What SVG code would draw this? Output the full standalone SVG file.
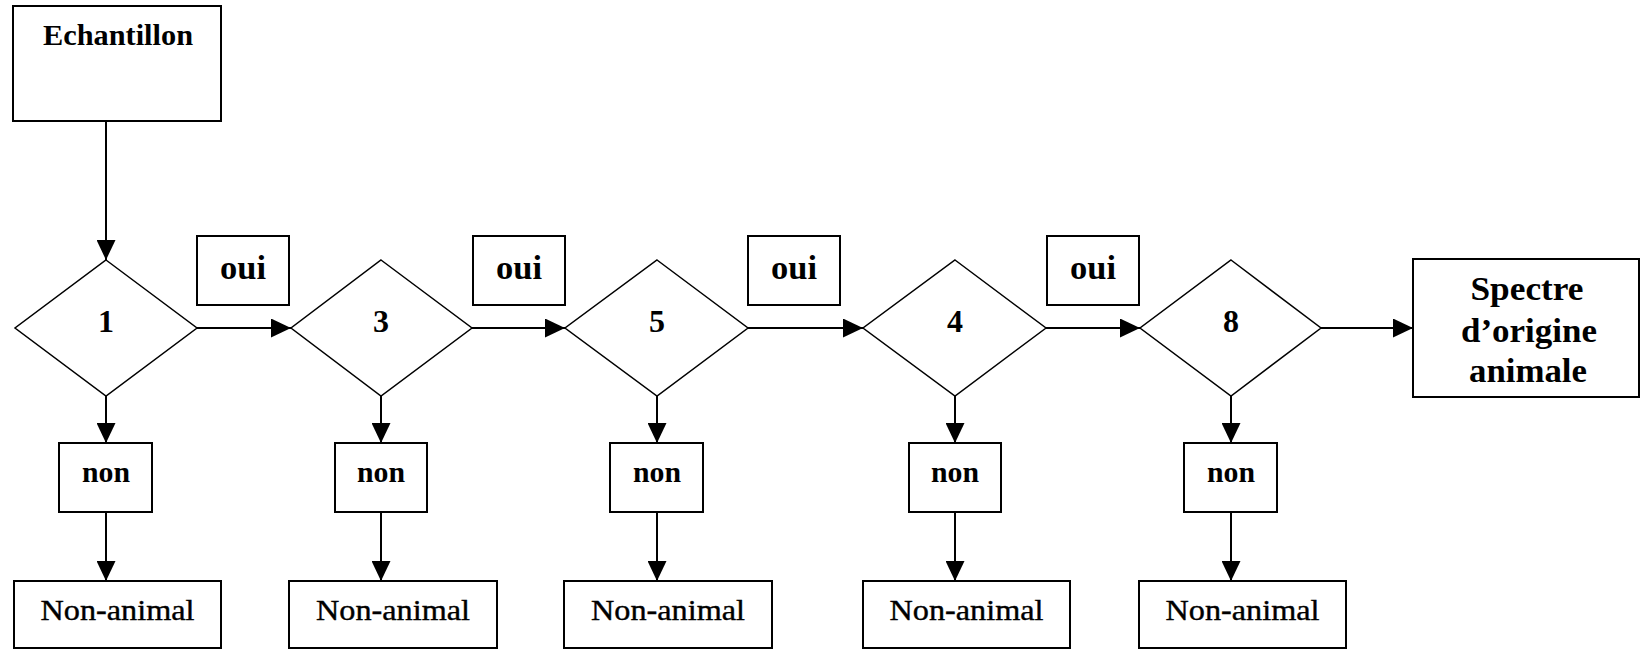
<svg xmlns="http://www.w3.org/2000/svg" width="1641" height="650" viewBox="0 0 1641 650">
<defs>
<style>
.box{fill:#fff;stroke:#000;stroke-width:2}
.dia{fill:#fff;stroke:#000;stroke-width:1.5}
.t{font-family:"Liberation Serif","Times New Roman",serif;font-weight:bold;fill:#000;text-anchor:middle}
.tn{font-family:"Liberation Serif","Times New Roman",serif;font-weight:normal;fill:#000;text-anchor:middle;stroke:#000;stroke-width:0.4}
.c{stroke:#000;stroke-width:2;fill:none;marker-end:url(#ah)}
</style>
<marker id="ah" markerUnits="userSpaceOnUse" markerWidth="20" markerHeight="19" refX="20" refY="9.5" orient="auto">
<path d="M0,0 L20,9.5 L0,19 z" fill="#000"/>
</marker>
</defs>
<rect width="1641" height="650" fill="#fff"/>
<g id="connectors">
<line class="c" x1="106" y1="121" x2="106" y2="260"/>
<line class="c" x1="197" y1="328" x2="291" y2="328"/>
<line class="c" x1="472" y1="328" x2="565" y2="328"/>
<line class="c" x1="748" y1="328" x2="863" y2="328"/>
<line class="c" x1="1046" y1="328" x2="1140" y2="328"/>
<line class="c" x1="1321" y1="328" x2="1413" y2="328"/>
<line class="c" x1="106" y1="396" x2="106" y2="443"/>
<line class="c" x1="106" y1="512" x2="106" y2="581"/>
<line class="c" x1="381" y1="396" x2="381" y2="443"/>
<line class="c" x1="381" y1="512" x2="381" y2="581"/>
<line class="c" x1="657" y1="396" x2="657" y2="443"/>
<line class="c" x1="657" y1="512" x2="657" y2="581"/>
<line class="c" x1="955" y1="396" x2="955" y2="443"/>
<line class="c" x1="955" y1="512" x2="955" y2="581"/>
<line class="c" x1="1231" y1="396" x2="1231" y2="443"/>
<line class="c" x1="1231" y1="512" x2="1231" y2="581"/>
</g>
<g id="echantillon"><rect class="box" x="13" y="6" width="208" height="115"/><text class="t" x="118" y="45" font-size="30" textLength="150" lengthAdjust="spacingAndGlyphs">Echantillon</text></g>

<g id="d1"><polygon class="dia" points="106,260 197,328 106,396 15,328"/><text class="t" x="106" y="332" font-size="32">1</text></g>
<g id="d3"><polygon class="dia" points="381,260 472,328 381,396 291,328"/><text class="t" x="381" y="332" font-size="32">3</text></g>
<g id="d5"><polygon class="dia" points="657,260 748,328 657,396 565,328"/><text class="t" x="657" y="332" font-size="32">5</text></g>
<g id="d4"><polygon class="dia" points="955,260 1046,328 955,396 863,328"/><text class="t" x="955" y="332" font-size="32">4</text></g>
<g id="d8"><polygon class="dia" points="1231,260 1321,328 1231,396 1140,328"/><text class="t" x="1231" y="332" font-size="32">8</text></g>

<g id="oui1"><rect class="box" x="197" y="236" width="92" height="69"/><text class="t" x="243" y="279" font-size="34" textLength="46" lengthAdjust="spacingAndGlyphs">oui</text></g>
<g id="oui2"><rect class="box" x="473" y="236" width="92" height="69"/><text class="t" x="519" y="279" font-size="34" textLength="46" lengthAdjust="spacingAndGlyphs">oui</text></g>
<g id="oui3"><rect class="box" x="748" y="236" width="92" height="69"/><text class="t" x="794" y="279" font-size="34" textLength="46" lengthAdjust="spacingAndGlyphs">oui</text></g>
<g id="oui4"><rect class="box" x="1047" y="236" width="92" height="69"/><text class="t" x="1093" y="279" font-size="34" textLength="46" lengthAdjust="spacingAndGlyphs">oui</text></g>

<g id="spectre"><rect class="box" x="1413" y="259" width="226" height="138"/>
<text class="t" x="1527" y="300" font-size="34" textLength="113" lengthAdjust="spacingAndGlyphs">Spectre</text>
<text class="t" x="1529" y="342" font-size="34" textLength="136" lengthAdjust="spacingAndGlyphs">d’origine</text>
<text class="t" x="1528" y="382" font-size="34" textLength="118" lengthAdjust="spacingAndGlyphs">animale</text></g>

<g id="non1"><rect class="box" x="59" y="443" width="93" height="69"/><text class="t" x="106" y="482" font-size="30" textLength="48" lengthAdjust="spacingAndGlyphs">non</text></g>
<g id="non2"><rect class="box" x="335" y="443" width="92" height="69"/><text class="t" x="381" y="482" font-size="30" textLength="48" lengthAdjust="spacingAndGlyphs">non</text></g>
<g id="non3"><rect class="box" x="610" y="443" width="93" height="69"/><text class="t" x="657" y="482" font-size="30" textLength="48" lengthAdjust="spacingAndGlyphs">non</text></g>
<g id="non4"><rect class="box" x="909" y="443" width="92" height="69"/><text class="t" x="955" y="482" font-size="30" textLength="48" lengthAdjust="spacingAndGlyphs">non</text></g>
<g id="non5"><rect class="box" x="1184" y="443" width="93" height="69"/><text class="t" x="1231" y="482" font-size="30" textLength="48" lengthAdjust="spacingAndGlyphs">non</text></g>

<g id="na1"><rect class="box" x="14" y="581" width="207" height="67"/><text class="tn" x="117.5" y="620" font-size="30" textLength="154" lengthAdjust="spacingAndGlyphs">Non-animal</text></g>
<g id="na2"><rect class="box" x="289" y="581" width="208" height="67"/><text class="tn" x="393" y="620" font-size="30" textLength="154" lengthAdjust="spacingAndGlyphs">Non-animal</text></g>
<g id="na3"><rect class="box" x="564" y="581" width="208" height="67"/><text class="tn" x="668" y="620" font-size="30" textLength="154" lengthAdjust="spacingAndGlyphs">Non-animal</text></g>
<g id="na4"><rect class="box" x="863" y="581" width="207" height="67"/><text class="tn" x="966.5" y="620" font-size="30" textLength="154" lengthAdjust="spacingAndGlyphs">Non-animal</text></g>
<g id="na5"><rect class="box" x="1139" y="581" width="207" height="67"/><text class="tn" x="1242.5" y="620" font-size="30" textLength="154" lengthAdjust="spacingAndGlyphs">Non-animal</text></g>
</svg>
